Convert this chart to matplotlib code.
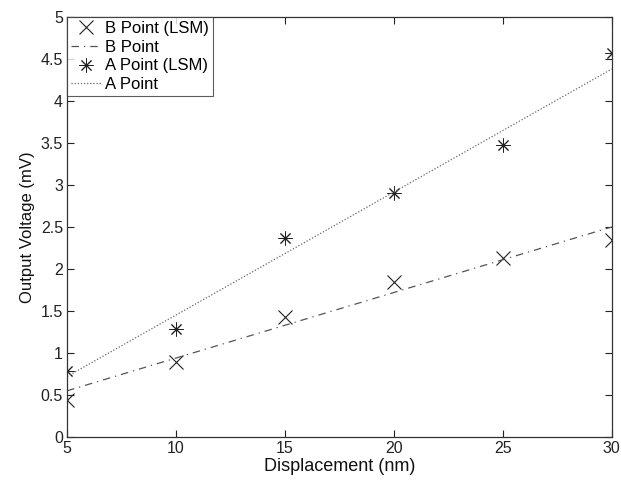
import matplotlib
matplotlib.use("Agg")
import matplotlib.pyplot as plt

plt.rcParams['font.family'] = ['Liberation Sans', 'DejaVu Sans']

x = [5, 10, 15, 20, 25, 30]
b_lsm = [0.44, 0.89, 1.43, 1.85, 2.13, 2.35]
a_lsm = [0.78, 1.28, 2.37, 2.90, 3.48, 4.57]
line_x = [5, 30]
b_line = [0.55, 2.50]
a_line = [0.72, 4.38]

fig = plt.figure(figsize=(6.21, 4.80), dpi=100)
ax = fig.add_axes([0.108, 0.0896, 0.877, 0.875])

ax.plot(x, b_lsm, linestyle='none', marker='x', markersize=10, markeredgewidth=0.8,
        color='#222222', label='B Point (LSM)')
ax.plot(line_x, b_line, linestyle=(0, (6, 4, 1, 4)), linewidth=0.9, color='#555555',
        label='B Point')
ax.plot(x, a_lsm, linestyle='none', marker=(8, 2, 0), markersize=10, markeredgewidth=0.7,
        color='#222222', label='A Point (LSM)')
ax.plot(line_x, a_line, linestyle=(0, (1, 1.5)), linewidth=0.9, color='#666666',
        label='A Point')

ax.set_xlim(5, 30)
ax.set_ylim(0, 5)
ax.set_xticks([5, 10, 15, 20, 25, 30])
ax.set_yticks([0, 0.5, 1, 1.5, 2, 2.5, 3, 3.5, 4, 4.5, 5])
ax.set_yticklabels(['0', '0.5', '1', '1.5', '2', '2.5', '3', '3.5', '4', '4.5', '5'])
ax.tick_params(direction='in', top=True, right=True, labelsize=11.5, length=5, width=0.8,
               colors='#222222', pad=3)
for s in ax.spines.values():
    s.set_linewidth(0.9)
    s.set_color('#333333')

ax.set_xlabel('Displacement (nm)', fontsize=13, labelpad=1, color='#111111')
ax.set_ylabel('Output Voltage (mV)', fontsize=12, labelpad=4, color='#111111')

leg = ax.legend(loc='upper left', fontsize=12, frameon=True, fancybox=False,
                borderaxespad=0, handlelength=1.8, handletextpad=0.25,
                borderpad=0.25, labelspacing=0.22, edgecolor='#333333')
leg.get_frame().set_linewidth(0.8)

fig.savefig('out.png', dpi=100)
